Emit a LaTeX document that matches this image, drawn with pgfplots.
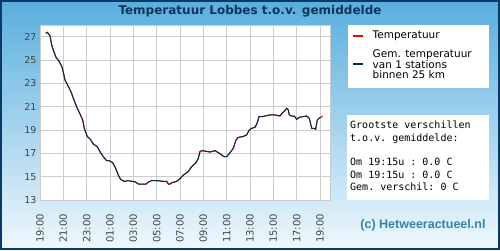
\documentclass[border=0pt]{standalone}
\usepackage{fontspec}
\setmainfont{DejaVu Sans}
\setmonofont{DejaVu Sans Mono}
\newfontfamily\wmfont{Liberation Sans}
\usepackage{pgfplots}
\pgfplotsset{compat=1.18}
\definecolor{bgtop}{RGB}{88,174,221}
\definecolor{bgmid}{RGB}{148,204,236}
\definecolor{bgbot}{RGB}{240,248,253}
\definecolor{framec}{RGB}{12,58,104}
\definecolor{titlec}{RGB}{16,52,92}
\definecolor{gridc}{RGB}{204,204,204}
\definecolor{tickc}{RGB}{68,68,68}
\definecolor{tblue}{RGB}{0,40,80}
\definecolor{wmc}{RGB}{52,132,170}
\begin{document}
\begin{tikzpicture}[x=1pt,y=1pt]
\shade[top color=bgtop,middle color=bgmid,bottom color=bgbot] (0,0) rectangle (500,250);
\draw[framec,line width=2pt] (1,1) rectangle (499,249);
\node[font=\bfseries\fontsize{12}{13}\selectfont,text=titlec] at (250,238.5) {Temperatuur Lobbes t.o.v. gemiddelde};
% legend box
\fill[white] (348,162) rectangle (489,225);
\draw[red,line width=1.8pt] (353,214.3) -- (363,214.3);
\node[anchor=west,font=\fontsize{10.5}{10}\selectfont,text=black,inner sep=0] at (372.5,214.3) {Temperatuur};
\draw[tblue,line width=1.8pt] (353,186) -- (363,186);
\node[anchor=west,font=\fontsize{10.5}{10}\selectfont,text=black,inner sep=0,align=left] at (372.5,186) {Gem. temperatuur\\van 1 stations\\binnen 25 km};
% info box
\fill[white] (347,50) rectangle (489,135);
\node[anchor=north west,font=\ttfamily\fontsize{10}{12.3}\selectfont,inner sep=0,align=left] at (350,129) {Grootste verschillen\\t.o.v. gemiddelde:\\[12.3pt]Om 19:15u : 0.0 C\\Om 19:15u : 0.0 C\\Gem. verschil: 0 C};
\node[font=\wmfont\bfseries\fontsize{12.5}{14}\selectfont,text=wmc] at (423,24.5) {(c) Hetweeractueel.nl};
\begin{axis}[
  at={(40pt,50pt)}, anchor=south west,
  width=290pt, height=175pt, scale only axis,
  xmin=0, xmax=24.86, ymin=13, ymax=28,
  axis background/.style={fill=white},
  axis line style={gridc},
  grid=major, major grid style={gridc, line width=0.8pt},
  tick style={draw=none},
  xtick={0,2,...,24},
  xticklabels={19:00,21:00,23:00,01:00,03:00,05:00,07:00,09:00,11:00,13:00,15:00,17:00,19:00},
  ytick={13,15,...,27},
  /pgf/number format/assume math mode=true,
  xticklabel shift=10.5pt,
  xticklabel style={rotate=90, anchor=east, font=\fontsize{10}{10}\selectfont, text=tickc},
  yticklabel style={font=\fontsize{9.5}{10}\selectfont, text=tickc},
]
\addplot[red, line width=1pt] coordinates {
(0.49,27.29)(0.63,27.37)(0.86,27.06)(1.0,26.29)(1.14,25.86)(1.37,25.23)(1.66,24.86)(1.91,24.34)(2.14,23.29)(2.29,23.0)(2.49,22.63)(2.71,22.14)(2.91,21.57)(3.2,20.86)(3.43,20.37)(3.66,19.86)(3.8,19.14)(4.06,18.43)(4.29,18.23)(4.57,17.8)(4.91,17.57)(5.14,17.14)(5.43,16.71)(5.71,16.37)(5.94,16.37)(6.23,16.2)(6.43,15.86)(6.71,15.14)(6.91,14.77)(7.2,14.6)(7.57,14.66)(7.86,14.6)(8.14,14.57)(8.43,14.37)(9.09,14.37)(9.29,14.54)(9.57,14.66)(10.0,14.66)(10.57,14.6)(10.86,14.6)(11.0,14.37)(11.14,14.37)(11.29,14.48)(11.71,14.6)(11.94,14.77)(12.29,15.14)(12.71,15.43)(13.0,15.86)(13.37,16.2)(13.57,16.57)(13.71,17.14)(13.86,17.23)(14.29,17.17)(14.57,17.11)(15.0,17.23)(15.29,17.06)(15.57,16.86)(15.77,16.71)(16.0,16.71)(16.29,17.06)(16.57,17.43)(16.8,18.14)(17.0,18.37)(17.37,18.43)(17.71,18.57)(17.94,19.0)(18.14,19.14)(18.43,19.23)(18.63,19.63)(18.77,20.14)(19.0,20.14)(19.29,20.2)(19.71,20.29)(20.14,20.29)(20.57,20.2)(20.8,20.49)(21.0,20.66)(21.14,20.86)(21.29,20.71)(21.37,20.29)(21.57,20.2)(21.8,20.2)(22.0,19.91)(22.23,20.09)(22.51,20.14)(22.86,20.2)(23.09,20.0)(23.29,19.14)(23.49,19.14)(23.63,19.06)(23.77,19.86)(23.91,20.0)(24.09,20.09)(24.23,20.2)
};
\addplot[tblue, line width=1pt] coordinates {
(0.49,27.29)(0.63,27.37)(0.86,27.06)(1.0,26.29)(1.14,25.86)(1.37,25.23)(1.66,24.86)(1.91,24.34)(2.14,23.29)(2.29,23.0)(2.49,22.63)(2.71,22.14)(2.91,21.57)(3.2,20.86)(3.43,20.37)(3.66,19.86)(3.8,19.14)(4.06,18.43)(4.29,18.23)(4.57,17.8)(4.91,17.57)(5.14,17.14)(5.43,16.71)(5.71,16.37)(5.94,16.37)(6.23,16.2)(6.43,15.86)(6.71,15.14)(6.91,14.77)(7.2,14.6)(7.57,14.66)(7.86,14.6)(8.14,14.57)(8.43,14.37)(9.09,14.37)(9.29,14.54)(9.57,14.66)(10.0,14.66)(10.57,14.6)(10.86,14.6)(11.0,14.37)(11.14,14.37)(11.29,14.48)(11.71,14.6)(11.94,14.77)(12.29,15.14)(12.71,15.43)(13.0,15.86)(13.37,16.2)(13.57,16.57)(13.71,17.14)(13.86,17.23)(14.29,17.17)(14.57,17.11)(15.0,17.23)(15.29,17.06)(15.57,16.86)(15.77,16.71)(16.0,16.71)(16.29,17.06)(16.57,17.43)(16.8,18.14)(17.0,18.37)(17.37,18.43)(17.71,18.57)(17.94,19.0)(18.14,19.14)(18.43,19.23)(18.63,19.63)(18.77,20.14)(19.0,20.14)(19.29,20.2)(19.71,20.29)(20.14,20.29)(20.57,20.2)(20.8,20.49)(21.0,20.66)(21.14,20.86)(21.29,20.71)(21.37,20.29)(21.57,20.2)(21.8,20.2)(22.0,19.91)(22.23,20.09)(22.51,20.14)(22.86,20.2)(23.09,20.0)(23.29,19.14)(23.49,19.14)(23.63,19.06)(23.77,19.86)(23.91,20.0)(24.09,20.09)
};
\end{axis}
\end{tikzpicture}
\end{document}
